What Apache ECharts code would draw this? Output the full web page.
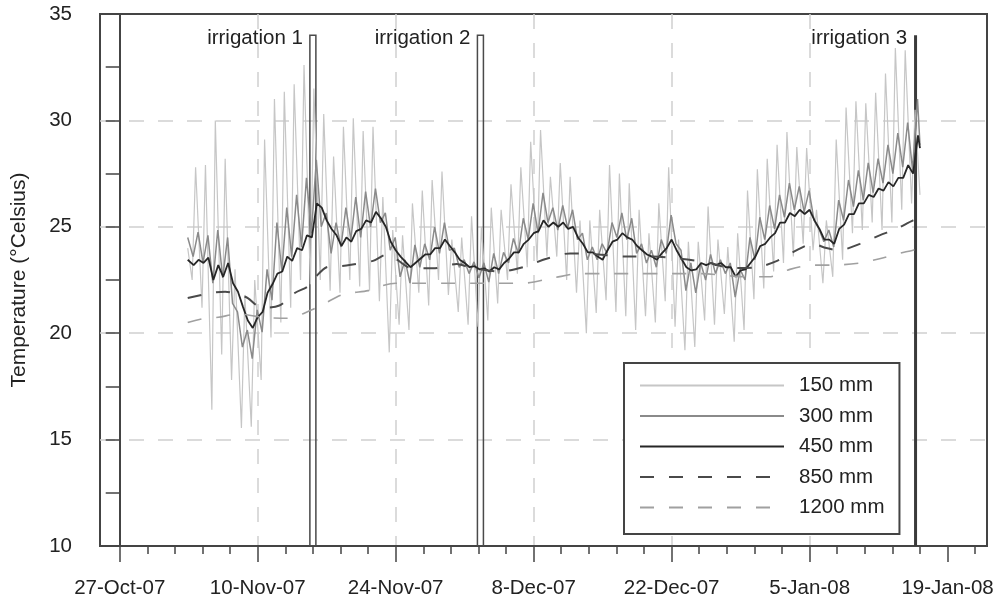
<!DOCTYPE html>
<html>
<head>
<meta charset="utf-8">
<title>Soil temperature</title>
<script src="https://cdn.jsdelivr.net/npm/echarts@6/dist/echarts.min.js"></script>
<style>
  html, body { margin: 0; padding: 0; background: #fff; }
  #chart { width: 998px; height: 601px; }
</style>
</head>
<body>
<div id="chart"></div>
<script>
// Time is counted in days from 27-Oct-07 00:00.
const tickDays = [0, 14, 28, 42, 56, 70, 84];
const tickLabels = ['27-Oct-07', '10-Nov-07', '24-Nov-07', '8-Dec-07', '22-Dec-07', '5-Jan-08', '19-Jan-08'];
const seriesNames = ['150 mm', '300 mm', '450 mm', '850 mm', '1200 mm'];

// Daily minimum (Lo) and maximum (Hi) readings, one entry per day from firstDay.
const firstDay = 7;
const t150Lo = [22.5, 21.2, 16.4, 19.0, 17.8, 15.55, 15.6, 17.8, 19.8, 20.5, 21.2, 22.5, 22.3, 22.5, 22.0, 21.9, 22.5, 22.2, 22.0, 21.5,
  19.1, 20.4, 20.15, 21.9, 21.3, 22.5, 21.8, 21.0, 20.4, 20.3, 20.6, 21.4, 22.5, 22.8, 23.1, 23.4, 23.6, 23.6, 22.5, 21.9,
  20.0, 20.95, 21.55, 21.0, 20.8, 20.15, 20.8, 20.5, 21.5, 20.3, 19.2, 19.35, 20.6, 20.4, 20.9, 19.6, 20.15, 21.6, 22.1, 22.9,
  23.3, 23.6, 24.2, 23.9, 22.35, 22.65, 23.45, 24.7, 24.85, 25.2, 24.85, 25.2, 25.8, 26.1];
const t150Hi = [27.8, 27.9, 30.0, 28.2, 23.0, 21.8, 22.5, 29.1, 31.0, 31.35, 31.7, 32.6, 31.5, 30.3, 28.3, 29.7, 30.1, 29.5, 29.7, 26.4,
  24.85, 24.6, 26.1, 26.7, 27.2, 27.6, 24.4, 24.5, 25.5, 25.0, 25.9, 25.8, 27.0, 27.8, 29.0, 29.55, 27.35, 28.0, 27.35, 25.3,
  25.3, 25.8, 27.9, 27.5, 27.05, 25.8, 24.7, 26.1, 27.8, 24.4, 24.3, 24.3, 25.95, 24.4, 24.05, 24.7, 26.7, 27.7, 28.2, 28.85,
  29.45, 28.75, 28.7, 25.8, 25.3, 29.1, 30.6, 30.9, 30.8, 31.3, 32.2, 33.4, 33.3, 30.5];
const t300Lo = [23.6, 23.3, 22.35, 22.6, 21.4, 19.35, 18.8, 20.05, 21.55, 22.9, 23.6, 24.05, 24.7, 25.0, 23.75, 24.05, 24.4, 24.5, 25.0, 25.2,
  23.9, 22.65, 22.35, 23.1, 23.45, 23.75, 23.9, 23.1, 22.8, 22.6, 22.4, 22.8, 23.3, 23.75, 24.4, 24.7, 25.2, 24.85, 24.95, 24.4,
  23.45, 23.45, 23.75, 24.5, 24.4, 23.75, 23.3, 23.1, 23.75, 24.2, 22.0, 21.9, 22.5, 22.8, 22.8, 21.7, 22.5, 23.45, 24.4, 24.9,
  25.45, 25.8, 25.7, 25.3, 24.3, 24.05, 25.3, 25.95, 26.25, 26.6, 27.05, 27.5, 27.8, 27.65];
const t300Hi = [24.75, 24.6, 24.85, 24.5, 21.0, 20.15, 21.1, 23.0, 25.2, 25.9, 26.5, 27.3, 28.15, 25.65, 25.2, 25.9, 26.4, 26.65, 26.8, 25.65,
  24.5, 23.45, 24.15, 24.2, 25.0, 25.2, 24.0, 23.45, 23.35, 23.3, 23.75, 23.8, 24.45, 25.4, 26.1, 26.6, 25.9, 26.0, 25.8, 24.7,
  24.05, 24.2, 25.2, 25.65, 25.4, 24.2, 23.9, 24.4, 25.55, 23.9, 23.3, 23.3, 23.7, 23.45, 23.3, 23.0, 24.5, 25.45, 26.0, 26.5,
  27.05, 26.9, 26.7, 24.9, 24.85, 26.25, 27.2, 27.65, 28.0, 28.2, 28.85, 29.4, 29.9, 31.0];
const t450Lo = [23.2, 23.3, 22.5, 22.65, 22.35, 21.25, 20.25, 21.0, 22.3, 22.9, 23.4, 23.9, 24.5, 25.9, 24.9, 24.1, 24.3, 24.9, 25.2, 25.4,
  24.3, 23.6, 23.1, 23.5, 23.7, 24.0, 24.1, 23.45, 23.1, 23.0, 22.9, 23.0, 23.5, 23.8, 24.4, 24.8, 25.0, 25.0, 24.9, 24.5,
  23.8, 23.6, 23.9, 24.4, 24.5, 24.1, 23.7, 23.45, 24.0, 23.9, 23.1, 23.0, 23.2, 23.2, 23.1, 22.65, 23.0, 23.6, 24.2, 24.7,
  25.2, 25.5, 25.6, 25.3, 24.4, 24.2, 25.1, 25.6, 26.1, 26.4, 26.7, 26.9, 27.3, 27.5];
const t450Hi = [23.45, 23.55, 23.2, 23.3, 21.95, 20.6, 20.75, 21.9, 22.8, 23.6, 24.0, 24.6, 26.1, 25.3, 24.6, 24.5, 24.8, 25.3, 25.7, 25.0,
  23.9, 23.35, 23.3, 23.7, 24.0, 24.4, 23.8, 23.3, 23.15, 23.05, 23.1, 23.3, 23.8, 24.2, 24.7, 25.3, 25.2, 25.2, 25.0, 24.2,
  23.8, 23.45, 24.3, 24.7, 24.4, 23.9, 23.6, 23.75, 24.4, 23.5, 22.95, 23.3, 23.3, 23.3, 23.1, 22.95, 23.3, 24.1, 24.5, 25.2,
  25.65, 25.8, 25.8, 24.9, 24.4, 24.9, 25.6, 26.1, 26.5, 26.8, 27.1, 27.3, 27.9, 29.3];

// Time of day (fraction) at which each depth reaches its minimum / maximum.
const phase150 = [0.35, 0.7];
const phase300 = [0.45, 0.95];
const phase450 = [0.5, 1.0];

// First and last logged readings: [day, temperature].
const start150 = [6.9, 24.0], end150 = [81.2, 26.5];
const start300 = [6.9, 24.5], end300 = [81.2, 28.85];
const start450 = [6.9, 23.45], end450 = [81.2, 28.7];

// Deep sensors change slowly: readings at irregular days.
const d850Days = [6.9, 9.4, 10.7, 12.2, 13.0, 14.4, 16.2, 17.8, 19.1, 20.0, 21.0, 22.3, 23.3, 25.7, 27.1, 29.7, 31.8, 34.2, 35.5, 38.6,
  40.9, 43.3, 45.7, 47.0, 51.5, 54.1, 56.8, 59.9, 62.0, 64.6, 66.7, 68.7, 70.3, 71.7, 73.0, 75.1, 77.1, 78.8, 80.5, 81.2];
const d850Temp = [21.65, 21.9, 21.95, 21.8, 21.65, 21.2, 21.3, 21.9, 22.2, 22.7, 23.1, 23.15, 23.2, 23.4, 23.7, 23.05, 23.05, 23.25, 23.1, 22.9,
  23.1, 23.5, 23.75, 23.75, 23.6, 23.6, 23.5, 23.3, 23.06, 23.1, 23.4, 23.9, 24.2, 24.0, 23.9, 24.2, 24.6, 24.9, 25.3, 25.4];
const d1200Days = [6.9, 8.6, 10.0, 12.0, 14.5, 17.0, 19.5, 20.8, 22.5, 23.6, 25.2, 26.4, 28.0, 31.0, 34.0, 36.8, 40.9, 44.0, 46.7, 49.4,
  52.5, 55.5, 58.9, 63.6, 65.9, 68.0, 70.3, 72.4, 75.1, 77.1, 79.1, 80.5, 81.2];
const d1200Temp = [20.5, 20.7, 20.75, 20.9, 20.75, 20.7, 21.1, 21.4, 21.8, 21.9, 22.0, 22.2, 22.35, 22.35, 22.35, 22.35, 22.35, 22.6, 22.8, 22.8,
  22.8, 22.8, 22.8, 22.65, 22.65, 23.0, 23.2, 23.2, 23.3, 23.5, 23.75, 23.9, 24.0];

// Irrigation events.
const irrigationNames = ['irrigation 1', 'irrigation 2', 'irrigation 3'];
const irrigationDays = [19.6, 36.6, 80.75];
const irrigationTop = [34, 34, 34];

const FONT = '"Liberation Sans", Arial, Helvetica, sans-serif';
const FONT_SIZE = 20.5;
const AXIS_COLOR = '#444';
const TEXT_COLOR = '#222';
const GRID_LINE = { color: '#cfcfcf', width: 1.5, type: [15, 14] };
const DASH = [14, 15];
const Y_MIN = 10, Y_MAX = 35;
const X_MIN = -2, X_MAX = 88;

function dailySeries(start, lo, hi, phase, end) {
  const pts = [start];
  for (let i = 0; i < lo.length; i++) {
    const day = firstDay + i;
    pts.push([day + phase[0], lo[i]]);
    pts.push([day + phase[1], hi[i]]);
  }
  pts.push(end);
  return pts;
}
function pairs(days, temps) { return days.map((d, i) => [d, temps[i]]); }

// Minor ticks: four between each pair of labelled dates.
const minorTickDays = [];
tickDays.forEach((d) => {
  for (let k = 1; k <= 4; k++) {
    const v = d + k * 2.8;
    if (v <= X_MAX) minorTickDays.push(v);
  }
});

const chart = echarts.init(document.getElementById('chart'), null, { renderer: 'canvas' });

const lineBase = { type: 'line', symbol: 'none', showSymbol: false, animation: false, xAxisIndex: 0, yAxisIndex: 0 };

chart.setOption({
  animation: false,
  backgroundColor: '#fff',
  textStyle: { fontFamily: FONT },
  grid: { left: 100, top: 14, right: 11, bottom: 55, show: true, borderColor: AXIS_COLOR, borderWidth: 2, containLabel: false },
  legend: {
    data: seriesNames,
    orient: 'vertical',
    left: 624, top: 363,
    itemWidth: 144, itemHeight: 20, itemGap: 9.5,
    padding: [12, 15, 16, 15],
    backgroundColor: '#fff',
    borderColor: AXIS_COLOR, borderWidth: 2,
    itemStyle: { opacity: 0 },
    textStyle: { fontSize: FONT_SIZE, color: TEXT_COLOR, fontFamily: FONT, lineHeight: 20, padding: [0, 0, 0, 10] },
    selectedMode: false
  },
  xAxis: [
    {
      type: 'value', min: X_MIN, max: X_MAX,
      axisLine: { show: true, onZero: false, lineStyle: { color: AXIS_COLOR, width: 2 } },
      axisTick: { show: true, inside: false, length: 16, customValues: tickDays, lineStyle: { color: AXIS_COLOR, width: 1.5 } },
      axisLabel: {
        show: true, customValues: tickDays, margin: 32, fontSize: FONT_SIZE, color: TEXT_COLOR, fontFamily: FONT,
        formatter: (v) => { const i = tickDays.indexOf(v); return i >= 0 ? tickLabels[i] : ''; }
      },
      splitLine: { show: true, showMinLine: false, showMaxLine: false, lineStyle: GRID_LINE }
    },
    {
      type: 'value', min: X_MIN, max: X_MAX, position: 'bottom',
      axisLine: { show: false },
      axisTick: { show: true, inside: false, length: 8, customValues: minorTickDays, lineStyle: { color: AXIS_COLOR, width: 1.5 } },
      axisLabel: { show: false },
      splitLine: { show: false }
    }
  ],
  yAxis: {
    type: 'value', min: Y_MIN, max: Y_MAX, interval: 5,
    axisLine: { show: true, lineStyle: { color: AXIS_COLOR, width: 2 } },
    axisTick: { show: true, inside: false, length: 14, lineStyle: { color: AXIS_COLOR, width: 1.5 } },
    minorTick: { show: true, splitNumber: 2, length: 14, lineStyle: { color: AXIS_COLOR, width: 1.5 } },
    axisLabel: { fontSize: FONT_SIZE, color: TEXT_COLOR, margin: 28, fontFamily: FONT },
    splitLine: { show: true, showMinLine: false, showMaxLine: false, lineStyle: GRID_LINE },
    name: 'Temperature (°Celsius)', nameLocation: 'middle', nameGap: 70,
    nameTextStyle: { fontSize: 21, color: TEXT_COLOR, fontFamily: FONT }
  },
  series: [
    {
      type: 'custom', name: 'irrigation', z: 1, clip: true, animation: false,
      xAxisIndex: 0, yAxisIndex: 0,
      data: irrigationDays.map((d, i) => [d, irrigationTop[i], i]),
      renderItem: (params, api) => {
        const i = api.value(2);
        const top = api.coord([api.value(0), api.value(1)]);
        const base = api.coord([api.value(0), Y_MIN]);
        const solid = i === irrigationNames.length - 1;
        const w = solid ? 3 : 6;
        return {
          type: 'group',
          children: [
            {
              type: 'rect',
              shape: { x: top[0] - w / 2, y: top[1], width: w, height: base[1] - top[1] },
              style: solid ? { fill: '#3a3a3a' } : { fill: 'none', stroke: '#4a4a4a', lineWidth: 1.5 }
            },
            {
              type: 'text',
              style: {
                text: irrigationNames[i], x: top[0] - w / 2 - 7, y: top[1] + 3,
                align: 'right', verticalAlign: 'middle', fill: TEXT_COLOR, font: FONT_SIZE + 'px ' + FONT
              }
            }
          ]
        };
      }
    },
    Object.assign({}, lineBase, {
      name: seriesNames[0], z: 2,
      data: dailySeries(start150, t150Lo, t150Hi, phase150, end150),
      lineStyle: { color: '#c6c6c6', width: 1.2 }, itemStyle: { color: '#c6c6c6' }
    }),
    Object.assign({}, lineBase, {
      name: seriesNames[1], z: 3,
      data: dailySeries(start300, t300Lo, t300Hi, phase300, end300),
      lineStyle: { color: '#8a8a8a', width: 1.5 }, itemStyle: { color: '#8a8a8a' }
    }),
    Object.assign({}, lineBase, {
      name: seriesNames[2], z: 4,
      data: dailySeries(start450, t450Lo, t450Hi, phase450, end450),
      lineStyle: { color: '#262626', width: 1.8 }, itemStyle: { color: '#262626' }
    }),
    Object.assign({}, lineBase, {
      name: seriesNames[3], z: 5, smooth: 0.3,
      data: pairs(d850Days, d850Temp),
      lineStyle: { color: '#4a4a4a', width: 2, type: DASH }, itemStyle: { color: '#4a4a4a' }
    }),
    Object.assign({}, lineBase, {
      name: seriesNames[4], z: 5, smooth: 0.3,
      data: pairs(d1200Days, d1200Temp),
      lineStyle: { color: '#a0a0a0', width: 1.6, type: DASH }, itemStyle: { color: '#a0a0a0' }
    })
  ]
});
</script>
</body>
</html>
